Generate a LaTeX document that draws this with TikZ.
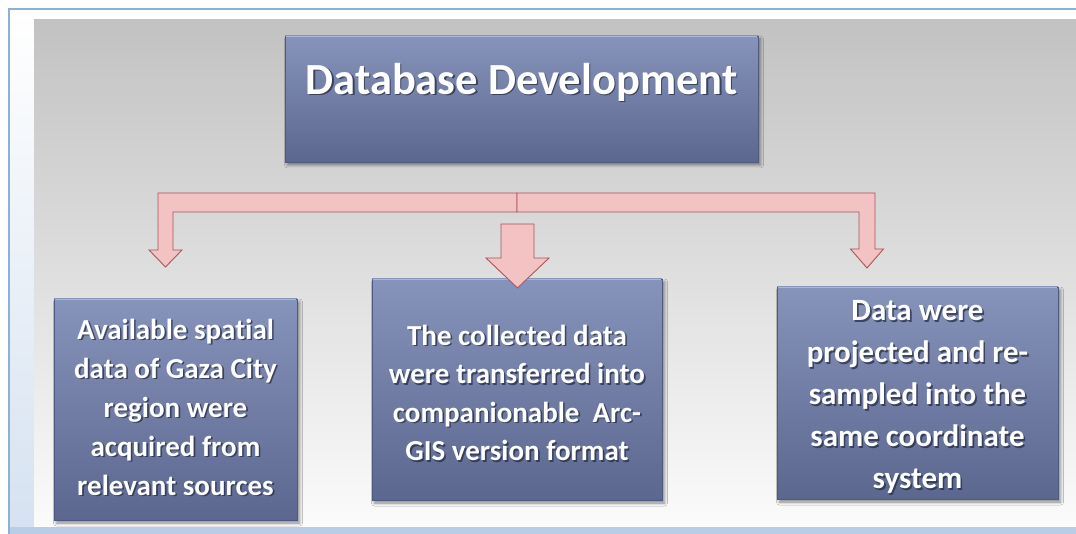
\documentclass[tikz,border=0pt]{standalone}
\usepackage{fontspec}
\setmainfont{Carlito}[Ligatures=NoCommon]
\usetikzlibrary{shadows.blur,calc}
\definecolor{frameblue}{HTML}{8DB0D9}
\definecolor{stripblue}{HTML}{D6E2F1}
\definecolor{bandblue}{HTML}{B9CDE6}
\definecolor{panelA}{HTML}{C2C2C2}
\definecolor{panelB}{HTML}{E8E8E8}
\definecolor{panelC}{HTML}{FBFBFB}
\definecolor{boxtop}{HTML}{8693BB}
\definecolor{boxbot}{HTML}{5C678F}
\definecolor{boxedge}{HTML}{4F5A80}
\definecolor{boxhi}{HTML}{AAB6DA}
\definecolor{arrowfill}{HTML}{F3C2C2}
\definecolor{arrowedge}{HTML}{A9555A}
\definecolor{textshade}{HTML}{262D45}
\newcommand\shadedlabel[4]{%
  \node[lblshadow,font=#4] (#1s) at ($(#2)+(1.6,1.6)$) {#3};
  \node[lbl,font=#4] (#1) at (#2) {#3};}
\begin{document}
\begin{tikzpicture}[x=1pt,y=-1pt,
  box/.style={draw=boxedge, line width=0.6pt, top color=boxtop, bottom color=boxbot,
    inner sep=0pt, blur shadow={shadow xshift=2.5pt, shadow yshift=-3pt,
    shadow blur radius=3pt, shadow opacity=45}},
  lbl/.style={text=white, align=center, inner sep=0pt},
  lblshadow/.style={text=textshade, text opacity=0.75, align=center, inner sep=0pt},
  blockarrow/.style={fill=arrowfill, draw=arrowedge, line width=0.9pt, line join=miter},
  bevel/.style={boxhi, line width=1.4pt}]
\useasboundingbox (0,0) rectangle (1076,534);
% page and frame
\fill[white] (0,0) rectangle (1076,534);
\shade[top color=white, bottom color=stripblue] (10,10) rectangle (34,527);
\fill[bandblue] (10,527) rectangle (1076,534);
\shade[top color=panelA, middle color=panelB, bottom color=panelC] (34,20) rectangle (1076,525);
\draw[frameblue, line width=2pt] (9,534) -- (9,9) -- (1076,9);

% title box
\node[box, minimum width=473pt, minimum height=126pt] (title) at (521.5,99) {};
\draw[bevel] ($(title.north west)+(1,1)$) -- ($(title.north east)+(-1,1)$);
\shadedlabel{titletext}{521.5,82}{Database Development}{\fontsize{44.5}{50}\selectfont\bfseries}

% elbow arrows from the bar
\draw[blockarrow] (517,193) -- (158,193) -- (158,250) -- (149,250) -- (165.5,267)
  -- (182,250) -- (173,250) -- (173,212) -- (517,212) -- cycle;
\draw[blockarrow] (517,193) -- (875,193) -- (875,249) -- (883.5,249) -- (867,268)
  -- (850.5,249) -- (859,249) -- (859,212) -- (517,212) -- cycle;

% step boxes
\node[box, minimum width=243pt, minimum height=221pt] (b1) at (175.5,409.5) {};
\node[box, minimum width=290pt, minimum height=221pt] (b2) at (517,389.5) {};
\node[box, minimum width=281pt, minimum height=212pt] (b3) at (917.5,393) {};
\foreach \b in {b1,b2,b3}
  \draw[bevel] ($(\b.north west)+(1,1)$) -- ($(\b.north east)+(-1,1)$);

% middle arrow
\draw[blockarrow] (501,224) -- (534,224) -- (534,258) -- (549,258) -- (517.5,288)
  -- (486,258) -- (501,258) -- cycle;

\shadedlabel{t1}{175.5,407}{Available spatial\\data of Gaza City\\region were\\acquired from\\relevant sources}{\fontsize{29}{39}\selectfont\bfseries}
\shadedlabel{t2}{517,393}{The collected data\\were transferred into\\companionable~ Arc-\\GIS version format}{\fontsize{29}{38.5}\selectfont\bfseries}
\shadedlabel{t3}{917.5,397}{Data were\\projected and re-\\sampled into the\\same coordinate\\system}{\fontsize{31}{42}\selectfont\bfseries}
\end{tikzpicture}
\end{document}
